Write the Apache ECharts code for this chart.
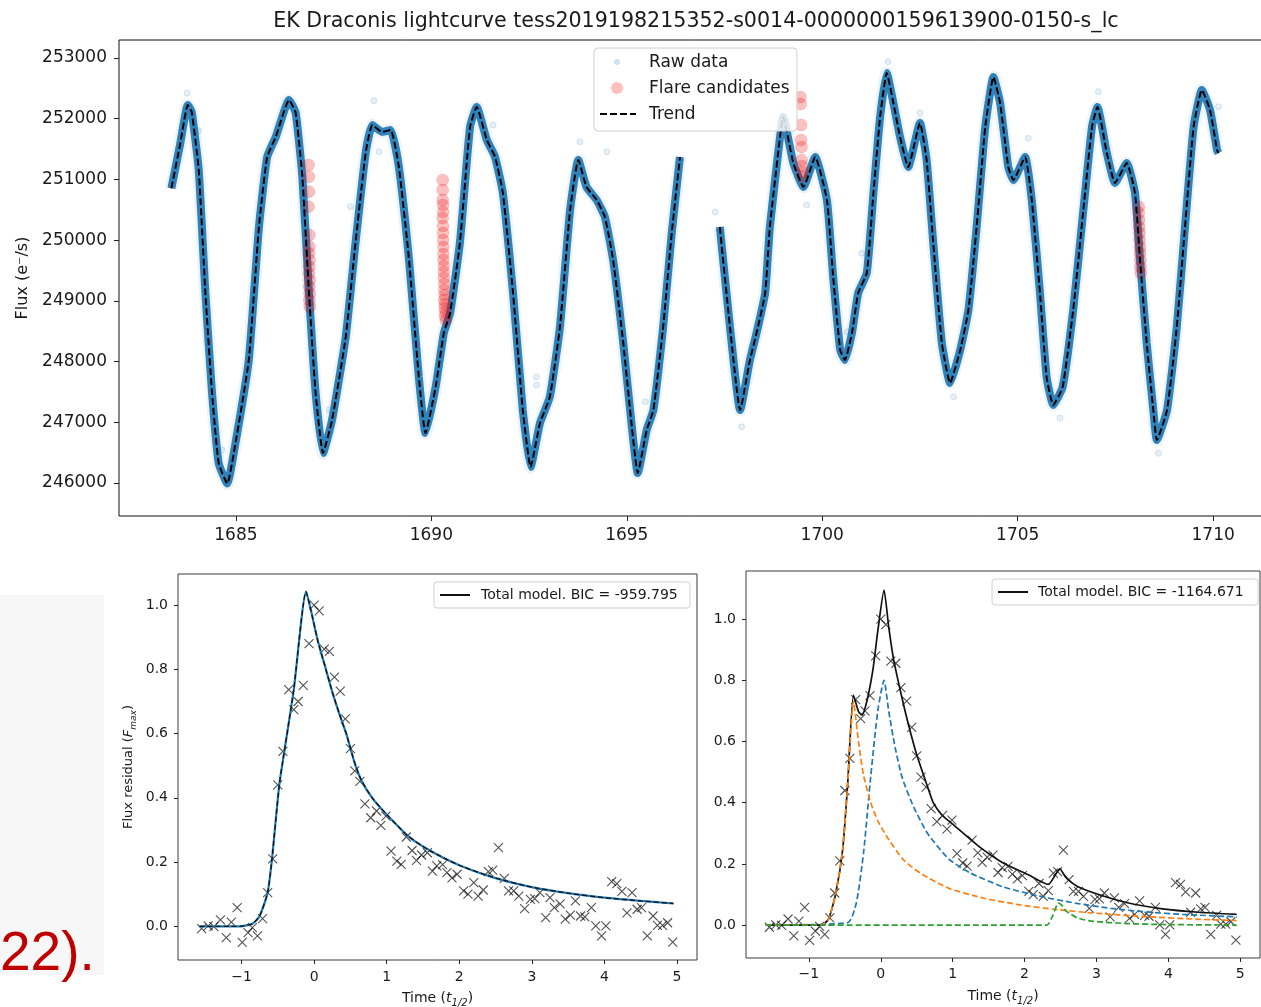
<!DOCTYPE html>
<html>
<head>
<meta charset="utf-8">
<title>EK Draconis lightcurve</title>
<script src="https://cdn.jsdelivr.net/npm/echarts@6/dist/echarts.min.js"></script>
<style>
  html, body { margin: 0; padding: 0; background: #ffffff; }
  #chart { width: 1261px; height: 1007px; }
</style>
</head>
<body>
<div id="chart"></div>
<script>
// ---- Light curve (TESS sector 14) ----
const topTicksX = [1685, 1690, 1695, 1700, 1705, 1710];
const topTicksY = [246000, 247000, 248000, 249000, 250000, 251000, 252000, 253000];

// Detrended model of the stellar rotation signal ('-' marks the data gap)
const trendTime = [
  1683.35,1683.57,1683.77,1683.87,1684.05,1684.22,1684.39,1684.56,1684.78,1684.99,
  1685.33,1685.59,1685.80,1686.02,1686.36,1686.53,1686.70,1686.87,1687.04,1687.23,
  1687.46,1687.81,1688.06,1688.32,1688.49,1688.74,1688.96,1689.17,1689.43,1689.68,
  1689.85,1690.11,1690.32,1690.48,1690.73,1690.99,1691.16,1691.42,1691.63,1691.83,
  1692.09,1692.34,1692.54,1692.78,1693.03,1693.29,1693.55,1693.76,1693.97,1694.23,
  1694.44,1694.65,1694.91,1695.13,1695.28,1695.51,1695.68,1695.93,1696.15,1696.36,
  1696.90,
  1697.38,1697.64,1697.90,1698.15,1698.32,1698.54,1698.66,1698.92,1699.00,1699.26,
  1699.52,1699.82,1700.12,1700.28,1700.46,1700.58,1700.76,1700.92,1701.14,1701.31,
  1701.48,1701.65,1701.82,1701.99,1702.20,1702.50,1702.67,1702.84,1703.06,1703.27,
  1703.53,1703.74,1703.95,1704.17,1704.38,1704.55,1704.76,1704.89,1705.19,1705.36,
  1705.57,1705.74,1705.91,1706.15,1706.42,1706.68,1706.90,1707.04,1707.28,1707.49,
  1707.79,1708.00,1708.13,1708.30,1708.47,1708.56,1708.82,1709.07,1709.28,1709.50,
  1709.71,1709.92,1710.10,1710.14
];
const trendFlux = [
  250853,251567,252226,252110,251155,249129,247481,246328,245990,246657,
  248025,250216,251369,251699,252308,252094,251040,249129,247481,246493,
  247036,248404,249952,251435,251896,251781,251814,251204,249672,247745,
  246822,247580,248470,248799,249952,251863,252193,251649,251369,250776,
  249129,247201,246262,246987,247415,248569,250496,251320,250875,250661,
  250381,249672,248305,246921,246163,246872,247201,248569,250117,251369,
  '-',
  250216,248569,247201,248025,248470,249129,250216,251699,252028,251270,
  250875,251369,250661,249392,248190,248025,248470,249129,249458,250776,
  252028,252753,252259,251699,251204,251929,251320,249952,248305,247646,
  248190,248849,250216,251863,252687,252259,251204,250990,251369,250661,
  249129,247745,247284,247580,248849,250496,251863,252193,251435,250941,
  251270,250776,249672,248305,247201,246707,247201,248569,250216,251863,
  252473,252143,251484,251435
];

// Isolated raw cadences away from the dense band
const rawOutTime = [1683.75,1684.05,1684.65,1687.38,1687.93,1688.53,1688.66,1691.58,1692.69,1692.69,
  1693.80,1694.49,1695.47,1697.26,1697.94,1699.60,1700.64,1701.01,1701.68,1702.50,
  1703.36,1705.27,1706.08,1707.06,1708.60,1710.14];
const rawOutFlux = [252418,251802,246542,247201,250551,252297,251456,251896,247750,247613,
  251621,251456,247339,250463,246926,250578,248492,249783,252939,252094,
  247420,251677,247069,252445,246488,252198];

// Flare candidate cadences
const flareTime = [
  1686.86,1686.87,1686.87,1686.86,1686.88,1686.88,1686.87,1686.89,1686.88,1686.87,1686.89,1686.88,1686.89,1686.88,1686.89,
  1690.29,1690.29,1690.29,1690.30,1690.30,1690.29,1690.30,1690.30,1690.30,1690.31,1690.31,1690.31,1690.32,1690.32,
  1690.32,1690.33,1690.33,1690.34,1690.33,1690.35,1690.34,1690.36,1690.35,1690.37,
  1699.44,1699.45,1699.46,1699.46,1699.47,1699.47,1699.48,1699.49,1699.50,
  1708.10,1708.10,1708.11,1708.11,1708.12,1708.12,1708.13,1708.13,1708.14,1708.14,1708.15
];
const flareFlux = [
  251237,251045,250798,250551,250084,249892,249782,249672,249562,249452,249342,249232,249122,249012,248902,
  250990,250825,250661,250578,250463,250364,250232,250117,250002,249886,249771,249672,249573,249475,
  249376,249277,249178,249096,249013,248947,248881,248816,248750,248684,
  252358,252243,251896,251649,251534,251320,251221,251122,251040,
  250545,250447,250331,250216,250117,250002,249886,249787,249672,249557,249458
];

// ---- Flare fits (time in half-widths, flux in peak units) ----
const flareTicksX = [-1, 0, 1, 2, 3, 4, 5];
const flareTicksY = [0, 0.2, 0.4, 0.6, 0.8, 1.0];

const obsTime = [
  -1.55,-1.46,-1.38,-1.29,-1.21,-1.14,-1.06,-0.99,-0.91,-0.85,
  -0.78,-0.71,-0.64,-0.57,-0.50,-0.43,-0.35,-0.28,-0.22,-0.15,
  -0.07,0.00,0.07,0.14,0.21,0.28,0.36,0.43,0.50,0.56,
  0.63,0.70,0.78,0.86,0.92,0.99,1.06,1.14,1.20,1.27,
  1.35,1.41,1.48,1.56,1.63,1.69,1.77,1.83,1.90,1.97,
  2.06,2.12,2.20,2.26,2.33,2.40,2.46,2.54,2.62,2.68,
  2.75,2.82,2.90,2.98,3.04,3.11,3.19,3.25,3.31,3.39,
  3.46,3.53,3.60,3.67,3.73,3.82,3.88,3.96,4.02,4.10,
  4.17,4.24,4.31,4.38,4.45,4.51,4.59,4.67,4.73,4.80,
  4.87,4.94
];
const obsFlux = [
  -0.007,0.001,-0.001,0.02,-0.035,0.013,0.058,-0.05,-0.02,-0.004,
  -0.03,0.024,0.105,0.21,0.44,0.545,0.737,0.675,0.70,0.75,
  0.88,1.0,0.982,0.863,0.856,0.776,0.732,0.646,0.553,0.484,
  0.451,0.381,0.338,0.359,0.314,0.343,0.234,0.203,0.193,0.278,
  0.236,0.205,0.222,0.229,0.172,0.188,0.192,0.167,0.151,0.162,
  0.11,0.10,0.136,0.094,0.113,0.17,0.175,0.245,0.149,0.11,
  0.11,0.094,0.055,0.084,0.086,0.105,0.027,0.089,0.058,0.07,
  0.022,0.035,0.079,0.032,0.029,0.058,0.001,-0.03,0.001,0.139,
  0.133,0.109,0.042,0.105,0.053,0.058,-0.03,0.032,0.003,0.003,
  0.011,-0.049
];

// Single-component model
const singleTime = [-1.58,-1.02,-0.85,-0.75,-0.64,-0.58,-0.48,-0.41,-0.28,-0.11,-0.05,0.05,0.15,0.25,0.35,0.45,0.55,0.65,0.80,1.00,1.30,1.60,2.00,2.50,3.00,3.50,4.00,4.50,4.95];
const singleFlux = [0,0,0.008,0.032,0.105,0.21,0.44,0.545,0.737,1.042,0.99,0.89,0.81,0.73,0.66,0.595,0.515,0.455,0.40,0.348,0.28,0.235,0.19,0.15,0.122,0.103,0.089,0.079,0.071];

// Three-component model: total and its parts
const totalTime = [-1.60,-0.83,-0.73,-0.63,-0.53,-0.46,-0.38,-0.31,-0.26,-0.19,-0.11,-0.04,0.045,0.11,0.18,0.28,0.38,0.50,0.65,0.73,0.85,1.00,1.35,1.69,2.04,2.33,2.49,2.58,2.73,3.03,3.43,3.92,4.42,4.95];
const totalFlux = [0,0,0.018,0.10,0.247,0.464,0.752,0.698,0.687,0.736,0.834,0.964,1.095,0.975,0.866,0.758,0.66,0.557,0.453,0.40,0.36,0.33,0.26,0.205,0.166,0.133,0.184,0.154,0.127,0.10,0.073,0.053,0.042,0.035];

const compATime = [-1.60,-0.83,-0.73,-0.63,-0.53,-0.46,-0.38,-0.31,-0.24,-0.14,-0.04,0.11,0.31,0.55,0.95,1.45,1.94,2.44,2.93,3.67,4.42,4.95];
const compAFlux = [0,0,0.018,0.10,0.247,0.464,0.73,0.60,0.49,0.40,0.34,0.28,0.215,0.17,0.12,0.087,0.066,0.051,0.04,0.028,0.019,0.015];

const compBTime = [-1.60,-0.46,-0.34,-0.24,-0.14,-0.04,0.045,0.11,0.20,0.30,0.45,0.65,0.95,1.25,1.70,2.20,2.70,3.20,3.70,4.20,4.95];
const compBFlux = [0,0.008,0.073,0.236,0.486,0.703,0.80,0.70,0.58,0.48,0.39,0.30,0.215,0.17,0.125,0.095,0.072,0.055,0.043,0.035,0.027];

const compCTime = [-1.60,2.31,2.39,2.47,2.51,2.58,2.73,2.93,3.43,3.92,4.95];
const compCFlux = [0,0,0.03,0.072,0.067,0.046,0.024,0.013,0.005,0.002,0];

const zip = (a, b) => a.map((v, i) => [v, b[i]]);

const FONT = 'DejaVu Sans';
const INK = '#1a1a1a';
const minusFmt = v => (v < 0 ? '\u2212' + Math.abs(v) : String(v));
const crossSymbol = 'path://M0,0L10,10M10,0L0,10';

function valueAxis(opts) {
  return Object.assign({
    type: 'value',
    scale: true,
    axisLine: { show: false, onZero: false },
    splitLine: { show: false },
    axisTick: { show: true, inside: false, length: opts.tickLen, lineStyle: { color: '#222', width: 1 }, customValues: opts.ticks },
    axisLabel: { customValues: opts.ticks, fontFamily: FONT, fontSize: opts.fontSize, color: INK, margin: opts.margin, formatter: opts.fmt },
    nameTextStyle: { fontFamily: FONT, color: INK }
  }, opts.extra);
}

const subRich = {
  i: { fontFamily: FONT, fontStyle: 'italic', fontSize: 14, color: INK, lineHeight: 20 },
  s: { fontFamily: FONT, fontStyle: 'italic', fontSize: 10, color: INK, lineHeight: 9, verticalAlign: 'bottom' }
};

const option = {
  animation: false,
  backgroundColor: '#ffffff',
  grid: [
    { left: 119, top: 40, width: 1152, height: 476, show: true, borderColor: '#111', borderWidth: 1, outerBoundsMode: 'none', containLabel: false },
    { left: 178, top: 574, width: 519, height: 386, show: true, borderColor: '#3a3a3a', borderWidth: 1, outerBoundsMode: 'none', containLabel: false },
    { left: 746, top: 571, width: 514, height: 387, show: true, borderColor: '#3a3a3a', borderWidth: 1, outerBoundsMode: 'none', containLabel: false }
  ],
  xAxis: [
    valueAxis({ ticks: topTicksX, tickLen: 5, fontSize: 17, margin: 11, fmt: v => String(v),
      extra: { gridIndex: 0, min: 1682.01, max: 1711.48 } }),
    valueAxis({ ticks: flareTicksX, tickLen: 4, fontSize: 14, margin: 10, fmt: minusFmt,
      extra: { gridIndex: 1, min: -1.875, max: 5.275, name: 'Time ({i|t}{s|1/2})', nameLocation: 'middle', nameGap: 28,
        nameTextStyle: { fontFamily: FONT, fontSize: 14, color: INK, lineHeight: 20, rich: subRich } } }),
    valueAxis({ ticks: flareTicksX, tickLen: 4, fontSize: 14, margin: 9, fmt: minusFmt,
      extra: { gridIndex: 2, min: -1.875, max: 5.275, name: 'Time ({i|t}{s|1/2})', nameLocation: 'middle', nameGap: 28,
        nameTextStyle: { fontFamily: FONT, fontSize: 14, color: INK, lineHeight: 20, rich: subRich } } })
  ],
  yAxis: [
    valueAxis({ ticks: topTicksY, tickLen: 5, fontSize: 17, margin: 12, fmt: v => String(v),
      extra: { gridIndex: 0, min: 245456, max: 253296, name: 'Flux (e\u207B/s)', nameLocation: 'middle', nameGap: 81,
        nameTextStyle: { fontFamily: FONT, fontSize: 16, color: INK } } }),
    valueAxis({ ticks: flareTicksY, tickLen: 4, fontSize: 14, margin: 10, fmt: v => v.toFixed(1),
      extra: { gridIndex: 1, min: -0.105, max: 1.097, name: 'Flux residual ({i|F}{s|max})', nameLocation: 'middle', nameGap: 40,
        nameTextStyle: { fontFamily: FONT, fontSize: 13, color: INK, lineHeight: 18,
          rich: { i: { fontFamily: FONT, fontStyle: 'italic', fontSize: 13, color: INK, lineHeight: 18 },
                  s: { fontFamily: FONT, fontStyle: 'italic', fontSize: 9, color: INK, lineHeight: 8, verticalAlign: 'bottom' } } } } }),
    valueAxis({ ticks: flareTicksY, tickLen: 4, fontSize: 14, margin: 10, fmt: v => v.toFixed(1),
      extra: { gridIndex: 2, min: -0.1075, max: 1.1575 } })
  ],
  series: [
    // raw cadences: dense band around the trend plus a few strays
    { type: 'line', xAxisIndex: 0, yAxisIndex: 0, data: zip(trendTime, trendFlux), showSymbol: false, smooth: 0.15,
      connectNulls: false, silent: true, z: 1, lineStyle: { color: '#1f77b4', width: 13, opacity: 0.08 } },
    { type: 'line', xAxisIndex: 0, yAxisIndex: 0, data: zip(trendTime, trendFlux), showSymbol: false, smooth: 0.15,
      connectNulls: false, silent: true, z: 2, lineStyle: { color: '#1f77b4', width: 8, opacity: 0.92 } },
    { type: 'scatter', xAxisIndex: 0, yAxisIndex: 0, data: zip(rawOutTime, rawOutFlux), symbolSize: 6, silent: true, z: 3,
      itemStyle: { color: 'rgba(31,119,180,0.14)', borderColor: 'rgba(31,119,180,0.25)', borderWidth: 0.8 } },
    // flare candidates
    { type: 'scatter', xAxisIndex: 0, yAxisIndex: 0, data: zip(flareTime, flareFlux), symbolSize: 12, silent: true, z: 4,
      itemStyle: { color: 'rgba(240,0,0,0.3)', borderColor: 'rgba(230,0,0,0.15)', borderWidth: 1 } },
    // trend
    { type: 'line', xAxisIndex: 0, yAxisIndex: 0, data: zip(trendTime, trendFlux), showSymbol: false, smooth: 0.15,
      connectNulls: false, silent: true, z: 5, lineStyle: { color: '#000', width: 2, type: [7, 3] } },

    // single-component fit
    { type: 'scatter', xAxisIndex: 1, yAxisIndex: 1, data: zip(obsTime, obsFlux), symbol: crossSymbol, symbolSize: 9, silent: true, z: 2,
      itemStyle: { color: 'none', borderColor: 'rgba(0,0,0,0.85)', borderWidth: 1.1 } },
    { type: 'line', xAxisIndex: 1, yAxisIndex: 1, data: zip(singleTime, singleFlux), showSymbol: false, smooth: 0.2, silent: true, z: 3,
      lineStyle: { color: '#1f77b4', width: 2.2 } },
    { type: 'line', xAxisIndex: 1, yAxisIndex: 1, data: zip(singleTime, singleFlux), showSymbol: false, smooth: 0.2, silent: true, z: 4,
      lineStyle: { color: '#111', width: 1.3, type: [5, 3] } },

    // three-component fit
    { type: 'scatter', xAxisIndex: 2, yAxisIndex: 2, data: zip(obsTime, obsFlux), symbol: crossSymbol, symbolSize: 9, silent: true, z: 2,
      itemStyle: { color: 'none', borderColor: 'rgba(0,0,0,0.85)', borderWidth: 1.1 } },
    { type: 'line', xAxisIndex: 2, yAxisIndex: 2, data: zip(totalTime, totalFlux), showSymbol: false, smooth: 0.2, silent: true, z: 3,
      lineStyle: { color: '#111', width: 1.7 } },
    { type: 'line', xAxisIndex: 2, yAxisIndex: 2, data: zip(compBTime, compBFlux), showSymbol: false, smooth: 0.2, silent: true, z: 4,
      lineStyle: { color: '#1f77b4', width: 1.7, type: [6, 3] } },
    { type: 'line', xAxisIndex: 2, yAxisIndex: 2, data: zip(compATime, compAFlux), showSymbol: false, smooth: 0.2, silent: true, z: 4,
      lineStyle: { color: '#ff7f0e', width: 1.7, type: [6, 3] } },
    { type: 'line', xAxisIndex: 2, yAxisIndex: 2, data: zip(compCTime, compCFlux), showSymbol: false, smooth: 0.2, silent: true, z: 4,
      lineStyle: { color: '#2ca02c', width: 1.7, type: [6, 3] } }
  ],
  graphic: [
    // caption fragment and panel beside it
    { type: 'rect', left: 0, top: 595, shape: { width: 104, height: 380 }, style: { fill: '#f7f7f7' }, z: 0, silent: true },
    { type: 'text', x: 0, y: 955, z: 10, silent: true,
      style: { text: '22).', fontFamily: 'Liberation Sans', fontSize: 55, fill: '#c00000', textAlign: 'left', textVerticalAlign: 'middle' } },

    // title
    { type: 'text', x: 696, y: 22, z: 10, silent: true,
      style: { text: 'EK Draconis lightcurve tess2019198215352-s0014-0000000159613900-0150-s_lc', fontFamily: FONT, fontSize: 20.6,
        fill: INK, textAlign: 'center', textVerticalAlign: 'middle' } },

    // light-curve legend
    { type: 'rect', shape: { x: 594, y: 48, width: 203, height: 83, r: 4 }, z: 50, silent: true,
      style: { fill: 'rgba(255,255,255,0.82)', stroke: '#d0d0d0', lineWidth: 1 } },
    { type: 'circle', shape: { cx: 617, cy: 62, r: 3 }, z: 51, silent: true, style: { fill: 'rgba(31,119,180,0.22)' } },
    { type: 'circle', shape: { cx: 617, cy: 88, r: 6 }, z: 51, silent: true, style: { fill: 'rgba(255,0,0,0.25)' } },
    { type: 'line', shape: { x1: 600, y1: 114, x2: 636, y2: 114 }, z: 51, silent: true, style: { stroke: '#000', lineWidth: 2, lineDash: [7, 3] } },
    { type: 'text', x: 649, y: 63, z: 51, silent: true, style: { text: 'Raw data', fontFamily: FONT, fontSize: 17, fill: INK, textVerticalAlign: 'middle' } },
    { type: 'text', x: 649, y: 89, z: 51, silent: true, style: { text: 'Flare candidates', fontFamily: FONT, fontSize: 17, fill: INK, textVerticalAlign: 'middle' } },
    { type: 'text', x: 649, y: 115, z: 51, silent: true, style: { text: 'Trend', fontFamily: FONT, fontSize: 17, fill: INK, textVerticalAlign: 'middle' } },

    // single-component legend
    { type: 'rect', shape: { x: 434, y: 582, width: 256, height: 26, r: 3 }, z: 50, silent: true,
      style: { fill: 'rgba(255,255,255,0.85)', stroke: '#d0d0d0', lineWidth: 1 } },
    { type: 'line', shape: { x1: 440, y1: 595, x2: 470, y2: 595 }, z: 51, silent: true, style: { stroke: '#111', lineWidth: 2 } },
    { type: 'text', x: 481, y: 595, z: 51, silent: true,
      style: { text: 'Total model. BIC = -959.795', fontFamily: FONT, fontSize: 14, fill: INK, textVerticalAlign: 'middle' } },

    // three-component legend
    { type: 'rect', shape: { x: 992, y: 579, width: 266, height: 26, r: 3 }, z: 50, silent: true,
      style: { fill: 'rgba(255,255,255,0.85)', stroke: '#d0d0d0', lineWidth: 1 } },
    { type: 'line', shape: { x1: 998, y1: 592, x2: 1028, y2: 592 }, z: 51, silent: true, style: { stroke: '#111', lineWidth: 2 } },
    { type: 'text', x: 1038, y: 592, z: 51, silent: true,
      style: { text: 'Total model. BIC = -1164.671', fontFamily: FONT, fontSize: 14, fill: INK, textVerticalAlign: 'middle' } }
  ]
};

const chart = echarts.init(document.getElementById('chart'), null, { renderer: 'canvas' });
chart.setOption(option);
</script>
</body>
</html>
